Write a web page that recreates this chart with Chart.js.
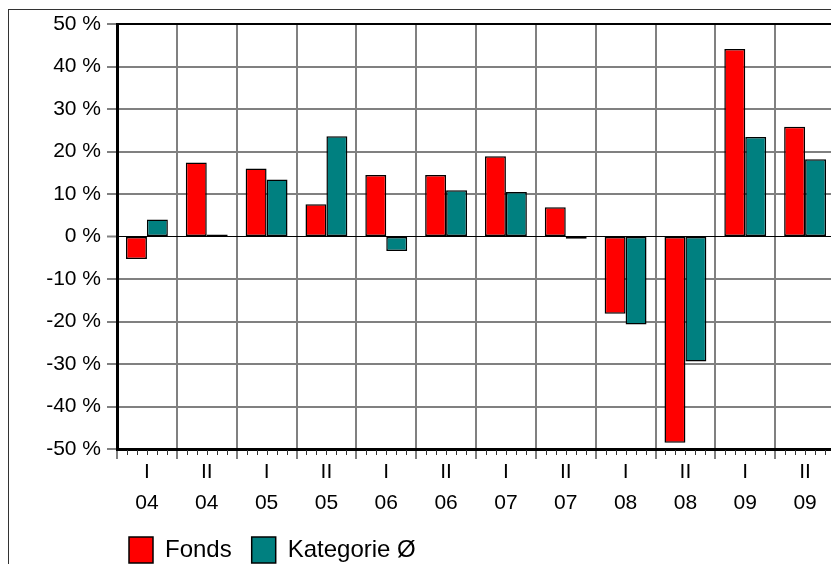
<!DOCTYPE html>
<html>
<head>
<meta charset="utf-8">
<script src="https://cdn.jsdelivr.net/npm/chart.js@4.4.1/dist/chart.umd.min.js"></script>
<style>
  html, body { margin: 0; padding: 0; background: #fff; overflow: hidden; }
  body { width: 831px; height: 564px; position: relative; }
  .frame {
    position: absolute; left: 8px; top: 9px; right: 0; bottom: 0;
    border-left: 1px solid #333; border-top: 1px solid #333;
  }
  .chart__wrapper { position: absolute; left: 0; top: 0; width: 835px; height: 573px; }
</style>
</head>
<body>
<div class="frame"></div>
<div class="chart__wrapper">
  <canvas id="returns-chart"></canvas>
</div>
<script>
  // half-year and year of each bar group
  const halves = ["I", "II", "I", "II", "I", "II", "I", "II", "I", "II", "I", "II"];
  const years = ["04", "04", "05", "05", "06", "06", "07", "07", "08", "08", "09", "09"];

  // returns in %
  const fonds = [-5.3, 17.4, 16.0, 7.6, 14.5, 14.5, 18.9, 6.9, -18.2, -48.5, 44.1, 25.8];
  const kategorie = [4.0, 0.5, 13.4, 23.6, -3.4, 10.9, 10.5, -0.5, -20.7, -29.4, 23.4, 18.2];

  const yMin = -50;
  const yMax = 50;
  const yStep = 10;

  const gridGray = "#808080";

  const labels = halves.map((h, i) => [h, years[i]]);

  Chart.defaults.font.family = "'Liberation Sans', Arial, sans-serif";
  Chart.defaults.color = "#000";

  // small month ticks under the x axis
  const minorTicks = {
    id: "minorTicks",
    afterDraw(chart) {
      const x = chart.scales.x;
      const ctx = chart.ctx;
      const step = x.width / x.ticks.length;
      ctx.save();
      ctx.strokeStyle = "#333";
      ctx.lineWidth = 1;
      ctx.beginPath();
      x.ticks.forEach((t, i) => {
        const left = x.getPixelForTick(i) - step / 2;
        for (let k = 1; k < 6; k++) {
          const px = Math.round(left + (k * step) / 6) + 0.5;
          ctx.moveTo(px, x.top + 1);
          ctx.lineTo(px, x.top + 6);
        }
      });
      ctx.stroke();
      ctx.restore();
    },
  };

  // legend starts just left of the plot area
  const legendShift = {
    id: "legendShift",
    afterLayout(chart) {
      chart.legend.left = chart.chartArea.left - 8;
    },
  };

  new Chart(document.getElementById("returns-chart"), {
    type: "bar",
    data: {
      labels: labels,
      datasets: [
        {
          label: "Fonds",
          data: fonds,
          backgroundColor: "#ff0000",
          borderColor: "#000",
          borderWidth: 1.5,
          borderSkipped: false,
        },
        {
          label: "Kategorie Ø",
          data: kategorie,
          backgroundColor: "#008080",
          borderColor: "#000",
          borderWidth: 1.5,
          borderSkipped: false,
        },
      ],
    },
    options: {
      responsive: true,
      maintainAspectRatio: false,
      animation: false,
      layout: { padding: { top: 24, left: 0, right: 0, bottom: 0 } },
      datasets: {
        bar: { categoryPercentage: 0.7, barPercentage: 1.0 },
      },
      scales: {
        x: {
          afterFit(scale) {
            scale.height = 68;
          },
          grid: {
            offset: true,
            color: gridGray,
            lineWidth: 2,
            tickLength: 10,
            tickColor: gridGray,
            tickWidth: 2,
          },
          border: { color: "#000", width: 3 },
          ticks: {
            padding: -3,
            maxRotation: 0,
            autoSkip: false,
            font: { size: 21, lineHeight: 1.5 },
          },
        },
        y: {
          min: yMin,
          max: yMax,
          afterFit(scale) {
            scale.width = 117;
          },
          grid: {
            color: (c) => (c.tick.value === 0 || c.tick.value === yMax ? "#000" : gridGray),
            lineWidth: (c) => (c.tick.value === 0 ? 1 : 2),
            tickLength: 10,
            tickColor: gridGray,
            tickWidth: 2,
          },
          border: { color: "#000", width: 3 },
          ticks: {
            stepSize: yStep,
            padding: 6,
            font: { size: 21 },
            callback: (v) => v + " %",
          },
        },
      },
      plugins: {
        tooltip: { enabled: false },
        legend: {
          position: "bottom",
          align: "start",
          labels: {
            boxWidth: 24,
            boxHeight: 26,
            padding: 20,
            color: "#000",
            font: { size: 24 },
          },
        },
      },
    },
    plugins: [minorTicks, legendShift],
  });
</script>
</body>
</html>
